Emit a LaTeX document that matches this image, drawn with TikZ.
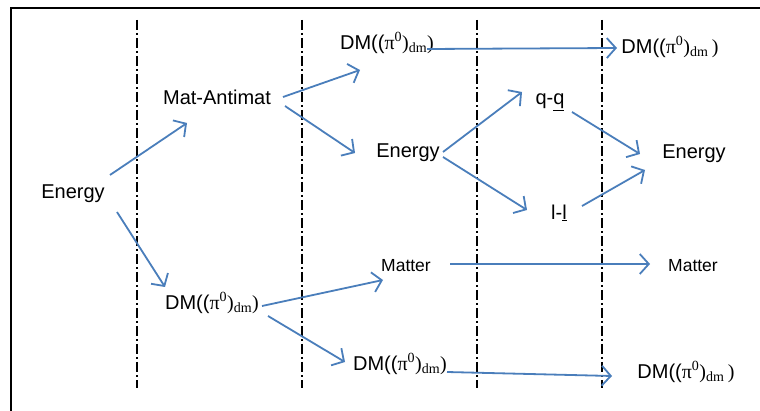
\documentclass[tikz,border=0pt]{standalone}
\usepackage{fontspec}
\setmainfont{Liberation Sans}
\newfontfamily\tms{Liberation Serif}
\usetikzlibrary{arrows.meta}
\definecolor{arrblue}{HTML}{4A7EBB}
\newcommand\dmL{DM(({\tms π\textsuperscript{0})\textsubscript{dm})}}
\newcommand\dmR{DM(({\tms π\textsuperscript{0})\textsubscript{dm}\,)}}
\begin{document}
\begin{tikzpicture}[x=1pt,y=-1pt,
  lbl/.style={inner sep=0pt,font=\fontsize{20}{23}\selectfont},
  small/.style={inner sep=0pt,font=\fontsize{17.5}{20}\selectfont},
  arr/.style={draw=arrblue,line width=1.8pt,-{Straight Barb[length=9pt,width=20pt,line width=1.8pt]}},
  sep/.style={draw=black,line width=1.8pt,dash pattern=on 10pt off 3pt on 2pt off 3pt}]
\useasboundingbox (0,0) rectangle (760,411);
\draw[line width=2pt] (11,430) -- (11,8) -- (780,8);
% separators
\foreach \x/\n in {137/s1,302/s2,477/s3,602/s4}{
  \coordinate (\n t) at (\x,20);
  \coordinate (\n b) at (\x,388);
  \draw[sep] (\n t) -- (\n b);
}
% nodes
\node[lbl] (en1) at (73,194) {Energy};
\node[lbl] (mat) at (217,97) {Mat-Antimat};
\node[lbl] (dmt) at (387,43) {\dmL};
\node[lbl] (dmtr) at (670,47) {\dmR};
\node[lbl] (en2) at (408,153) {Energy};
\node[lbl] (qq) at (550,102) {q-\underline{q}};
\node[lbl] (ll) at (559,213) {l-\underline{l}};
\node[lbl] (en3) at (694,154) {Energy};
\node[small] (mt) at (406,266) {Matter};
\node[small] (mtr) at (693,266) {Matter};
\node[lbl] (dml) at (212,303) {\dmL};
\node[lbl] (dmb) at (400,364) {\dmL};
\node[lbl] (dmbr) at (686,372) {\dmR};
% arrows
\draw[arr] ([shift={(37,-19)}]en1.center) -- ([shift={(-30,26)}]mat.center);
\draw[arr] ([shift={(44,18)}]en1.center) -- ([shift={(-47,-16)}]dml.center);
\draw[arr] ([shift={(66,0)}]mat.center) -- ([shift={(-27,27)}]dmt.center);
\draw[arr] ([shift={(68,9)}]mat.center) -- ([shift={(-53,0)}]en2.center);
\draw[arr] ([shift={(40,6)}]dmt.center) -- ([shift={(-53,1)}]dmtr.center);
\draw[arr] ([shift={(35,-1)}]en2.center) -- ([shift={(-28,-10)}]qq.center);
\draw[arr] ([shift={(35,4)}]en2.center) -- ([shift={(-32,-3)}]ll.center);
\draw[arr] ([shift={(22,10)}]qq.center) -- ([shift={(-54,0)}]en3.center);
\draw[arr] ([shift={(23,-7)}]ll.center) -- ([shift={(-49,16)}]en3.center);
\draw[arr] ([shift={(44,-2)}]mt.center) -- ([shift={(-43,-2)}]mtr.center);
\draw[arr] ([shift={(50,3)}]dml.center) -- ([shift={(-23,14)}]mt.center);
\draw[arr] ([shift={(56,13)}]dml.center) -- ([shift={(-55,-2)}]dmb.center);
\draw[arr] ([shift={(47,8)}]dmb.center) -- ([shift={(-74,4)}]dmbr.center);
\end{tikzpicture}
\end{document}
